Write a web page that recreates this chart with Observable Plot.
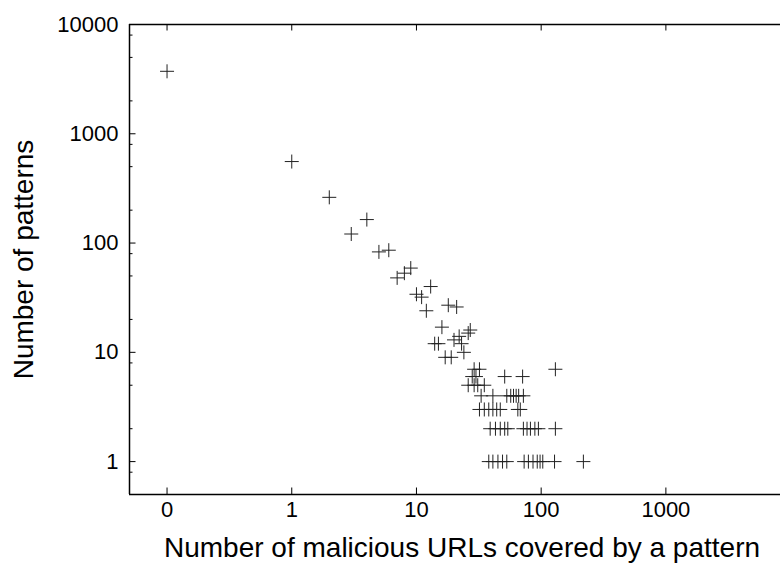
<!DOCTYPE html>
<html><head><meta charset="utf-8">
<script src="https://cdn.jsdelivr.net/npm/d3@7"></script>
<script src="https://cdn.jsdelivr.net/npm/@observablehq/plot@0.6"></script>
<style>html,body{margin:0;padding:0;background:#fff;} svg{display:block}</style>
</head><body><div id="chart"></div>
<script>
const xLabel = "Number of malicious URLs covered by a pattern";
const yLabel = "Number of patterns";
const xTickValues = [0.1, 1, 10, 100, 1000];
const xTickLabels = ["0", "1", "10", "100", "1000"];
const yTickValues = [1, 10, 100, 1000, 10000];
const yTickLabels = ["1", "10", "100", "1000", "10000"];
const yMinorTicks = [0.8, 2, 5, 8, 20, 50, 80, 200, 500, 800, 2000, 5000, 8000];
const xDomain = [0.05, 8300];
const yDomain = [0.5, 10000];
const zeroAt = 0.1; // where the "0" column sits on the log axis

const urlsCovered = [
  0, 1, 2, 3, 4, 5, 6, 7, 8, 9, 10, 11, 12, 13, 14, 15, 16, 17, 18, 19, 20, 21, 22, 23, 24, 26, 27,
  28, 29, 30, 32, 26, 29, 31, 35, 51, 71, 130,
  33, 41, 53, 57, 60, 63, 66, 72,
  32, 35, 38, 41, 44, 47, 65, 68,
  39, 43, 47, 51, 54, 72, 77, 82, 89, 95, 130,
  38, 41, 45, 49, 53, 73, 79, 86, 93, 98, 103, 128, 218
];
const patternCount = [
  3730, 557, 262, 121, 164, 83, 86, 48, 53, 59, 34, 32, 24, 40, 12, 12, 17, 9, 27, 9, 13, 26, 14, 12, 10, 15, 16,
  6, 7, 6, 7, 5, 5, 5, 5, 6, 6, 7,
  4, 4, 4, 4, 4, 4, 4, 4,
  3, 3, 3, 3, 3, 3, 3, 3,
  2, 2, 2, 2, 2, 2, 2, 2, 2, 2, 2,
  1, 1, 1, 1, 1, 1, 1, 1, 1, 1, 1, 1, 1
];

const points = urlsCovered.map((u, i) => ({u, n: patternCount[i]}));
const hTick = len => ({draw(c) { c.moveTo(0, 0); c.lineTo(len, 0); }});
const vTick = len => ({draw(c) { c.moveTo(0, 0); c.lineTo(0, len); }});
const plus = {draw(c) { c.moveTo(-7, 0); c.lineTo(7, 0); c.moveTo(0, -7); c.lineTo(0, 7); }};

const chart = Plot.plot({
  width: 780, height: 564,
  marginTop: 24, marginLeft: 129, marginRight: 0, marginBottom: 70,
  x: {type: "log", domain: xDomain, axis: null},
  y: {type: "log", domain: yDomain, axis: null},
  style: {fontFamily: "'Liberation Sans', Arial, sans-serif", background: "#fff", color: "#000", overflow: "visible"},
  marks: [
    Plot.ruleX([xDomain[0]], {stroke: "#000", strokeWidth: 1.5}),
    Plot.ruleY([yDomain[0]], {stroke: "#000", strokeWidth: 1.5}),
    Plot.ruleY([yDomain[1]], {stroke: "#000", strokeWidth: 1.5}),
    Plot.dot(yTickValues, {y: d => d, frameAnchor: "left", symbol: hTick(6), stroke: "#000", fill: "none", strokeWidth: 1}),
    Plot.dot(yMinorTicks, {y: d => d, frameAnchor: "left", symbol: hTick(3), stroke: "#000", fill: "none", strokeWidth: 1}),
    Plot.dot(xTickValues, {x: d => d, frameAnchor: "bottom", symbol: vTick(-7), stroke: "#000", fill: "none", strokeWidth: 1}),
    Plot.dot(xTickValues, {x: d => d, frameAnchor: "top", symbol: vTick(6), stroke: "#000", fill: "none", strokeWidth: 1}),
    Plot.axisX(xTickValues, {tickSize: 0, tickPadding: 7, fontSize: 22, label: null,
      tickFormat: d => xTickLabels[xTickValues.indexOf(d)]}),
    Plot.axisY(yTickValues, {tickSize: 0, tickPadding: 11, fontSize: 22, label: null,
      tickFormat: d => yTickLabels[yTickValues.indexOf(d)]}),
    Plot.text([xLabel], {frameAnchor: "bottom", dy: 62, dx: 7, fontSize: 28, text: d => d}),
    Plot.text([yLabel], {frameAnchor: "left", textAnchor: "middle", rotate: -90, dx: -105, fontSize: 28, text: d => d}),
    Plot.dot(points, {x: d => d.u === 0 ? zeroAt : d.u, y: "n", symbol: plus, stroke: "#222", fill: "none", strokeWidth: 1})
  ]
});
document.getElementById("chart").appendChild(chart);
</script>
</body></html>
